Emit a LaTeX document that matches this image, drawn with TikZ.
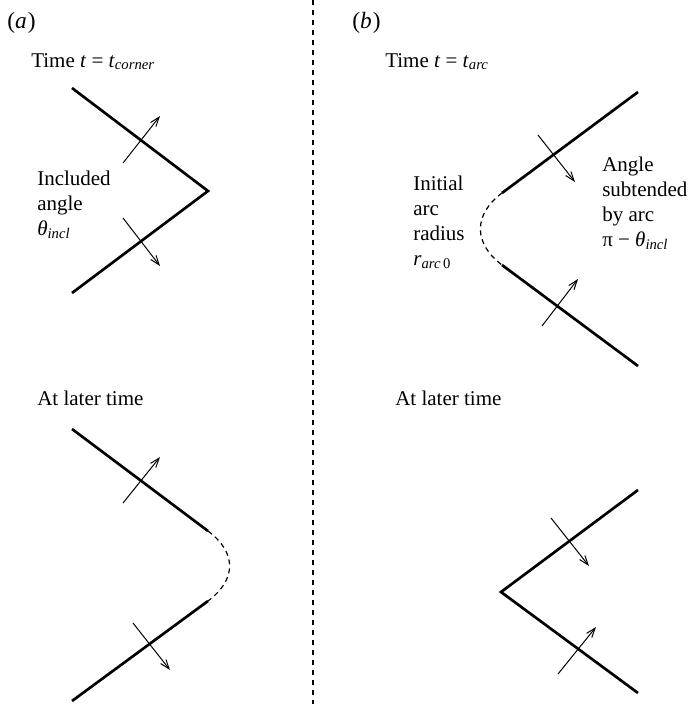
\documentclass[tikz,border=0pt]{standalone}
\usepackage{fontspec}
\setmainfont{Liberation Serif}
\usetikzlibrary{arrows.meta}
\begin{document}
\begin{tikzpicture}[x=0.75pt,y=-0.75pt,
  edge/.style={line width=2pt, line join=miter},
  normal/.style={line width=0.75pt, -{Straight Barb[length=7pt,width=5pt]}},
  arcgap/.style={line width=0.9pt, dash pattern=on 3.75pt off 3pt},
  divider/.style={line width=1pt, dash pattern=on 3.75pt off 3.75pt},
  lbl/.style={inner sep=0pt, anchor=base west, align=left,
    font=\fontsize{15.75}{18.75}\selectfont},
  panel/.style={lbl, font=\fontsize{17.5}{20}\selectfont}]
\useasboundingbox (0,0) rectangle (689,704);

% dividing line between the two cases
\coordinate (dtop) at (313,0);
\coordinate (dbot) at (313,704);
\draw[divider] (dtop) -- (dbot);

% ---------- case (a) ----------
\node[panel] (pa) at (7,28) {(\textit{a}\kern0.05em)};
\node[lbl] (ta) at (31,67) {Time \textit{t} = \textit{t}\textsubscript{\textit{corner}}};

% sharp corner
\coordinate (a1) at (72,88);
\coordinate (a2) at (208,191);
\coordinate (a3) at (72,293);
\draw[edge] (a1) -- (a2) -- (a3);
\coordinate (an1s) at (123,163); \coordinate (an1e) at (160,116);
\coordinate (an2s) at (123,218); \coordinate (an2e) at (160,266);
\draw[normal] (an1s) -- (an1e);
\draw[normal] (an2s) -- (an2e);
% multi-line labels are placed by the baseline of their last line
\node[lbl] (incl) at (37,235) {Included\\angle\\\textit{θ}\textsubscript{\textit{incl}}};

% later: corner replaced by an arc
\node[lbl] (la) at (37,405) {At later time};
\coordinate (b1) at (72,429);
\coordinate (b2) at (208,531);
\coordinate (b3) at (208,601);
\coordinate (b4) at (72,701);
\draw[edge] (b1) -- (b2);
\draw[edge] (b3) -- (b4);
\draw[arcgap] (b2) .. controls (236.8,552.6) and (236.8,579.4) .. (b3);
\coordinate (bn1s) at (123,503); \coordinate (bn1e) at (160,457);
\coordinate (bn2s) at (133,623); \coordinate (bn2e) at (170,670);
\draw[normal] (bn1s) -- (bn1e);
\draw[normal] (bn2s) -- (bn2e);

% ---------- case (b) ----------
\node[panel] (pb) at (352,28) {(\textit{b}\kern0.05em)};
\node[lbl] (tb) at (385,67) {Time \textit{t} = \textit{t}\textsubscript{\textit{arc}}};

% initial arc
\coordinate (c1) at (638,92);
\coordinate (c2) at (502,193);
\coordinate (c3) at (502,265);
\coordinate (c4) at (638,366);
\draw[edge] (c1) -- (c2);
\draw[edge] (c3) -- (c4);
\draw[arcgap] (c2) .. controls (473.2,214.6) and (473.2,243.4) .. (c3);
\coordinate (cn1s) at (538,135); \coordinate (cn1e) at (575,182);
\coordinate (cn2s) at (542,326); \coordinate (cn2e) at (578,279);
\draw[normal] (cn1s) -- (cn1e);
\draw[normal] (cn2s) -- (cn2e);
\node[lbl] (init) at (413,265) {Initial\\arc\\radius\\\textit{r}\textsubscript{\textit{arc}\,0}};
\node[lbl] (subt) at (602,246) {Angle\\subtended\\by arc\\π − \textit{θ}\textsubscript{\textit{incl}}};

% later: arc closes into a corner
\node[lbl] (lb) at (395,405) {At later time};
\coordinate (d1) at (638,490);
\coordinate (d2) at (501,592);
\coordinate (d3) at (638,693);
\draw[edge] (d1) -- (d2) -- (d3);
\coordinate (dn1s) at (551,518); \coordinate (dn1e) at (589,566);
\coordinate (dn2s) at (558,674); \coordinate (dn2e) at (596,627);
\draw[normal] (dn1s) -- (dn1e);
\draw[normal] (dn2s) -- (dn2e);
\end{tikzpicture}
\end{document}
